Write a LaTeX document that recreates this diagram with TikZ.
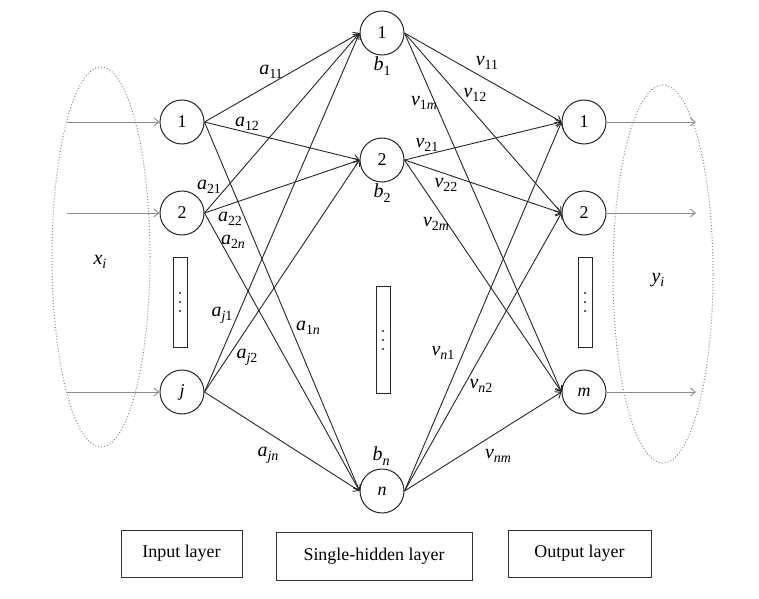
\documentclass[tikz,border=0pt]{standalone}
\usepackage{fontspec}
\setmainfont{Liberation Serif}
\usetikzlibrary{arrows.meta,shapes.geometric}
\newcommand\wt[2]{\textit{#1}\raisebox{-0.22em}{\fontsize{14}{16}\selectfont #2}}
\begin{document}
\begin{tikzpicture}[x=1bp,y=-1bp,
  neuron/.style={circle,draw=black!85,line width=1bp,minimum size=44bp,inner sep=0pt,font=\fontsize{18}{20}\selectfont},
  conn/.style={draw=black!85,line width=0.9bp,-{Straight Barb[length=5bp,width=8bp]}},
  io/.style={draw=black!45,line width=0.9bp,-{Straight Barb[length=5bp,width=8bp]}},
  lbl/.style={font=\fontsize{20}{22}\selectfont,inner sep=0pt},
  dotbox/.style={draw=black!85,line width=1bp,minimum width=14bp,inner sep=0pt},
  layerbox/.style={draw=black!80,line width=1bp,inner sep=0pt,font=\fontsize{18}{20}\selectfont},
  zone/.style={ellipse,draw=black!45,dotted,line width=1bp,inner sep=0pt}
]
\useasboundingbox (0,0) rectangle (759,599);
% dotted ellipses
\node[zone,minimum width=98bp,minimum height=380bp] (inz) at (101,257) {};
\node[zone,minimum width=100bp,minimum height=378bp] (outz) at (663,274) {};
\node[lbl] (xi) at (100,262) {\wt{x}{\textit{i}}};
\node[lbl] (yi) at (658,280) {\wt{y}{\textit{i}}};
% neurons
\node[neuron] (i1) at (182,122) {1};
\node[neuron] (i2) at (182,213) {2};
\node[neuron] (ij) at (182,392) {\textit{j}};
\node[neuron] (h1) at (382,33) {1};
\node[neuron] (h2) at (382,160) {2};
\node[neuron] (hn) at (382,491) {\textit{n}};
\node[neuron] (o1) at (584,122) {1};
\node[neuron] (o2) at (584,213) {2};
\node[neuron] (om) at (584,392) {\textit{m}};
% inputs / outputs
\coordinate (x1) at (67,122);
\coordinate (x2) at (67,213);
\coordinate (xj) at (67,392);
\coordinate (y1) at (696,122);
\coordinate (y2) at (696,213);
\coordinate (ym) at (696,392);
\draw[io] (x1) -- (i1);
\draw[io] (x2) -- (i2);
\draw[io] (xj) -- (ij);
\draw[io] (o1) -- (y1);
\draw[io] (o2) -- (y2);
\draw[io] (om) -- (ym);
% input -> hidden
\foreach \a in {i1,i2,ij}
  \foreach \b in {h1,h2,hn}
    \draw[conn] (\a.east) -- (\b.west);
% hidden -> output
\foreach \a in {h1,h2,hn}
  \foreach \b in {o1,o2,om}
    \draw[conn] (\a.east) -- (\b.west);
% weight labels
\node[lbl] (a11) at (271,72) {\wt{a}{11}};
\node[lbl] (a12) at (247,124) {\wt{a}{12}};
\node[lbl] (a21) at (209,187) {\wt{a}{21}};
\node[lbl] (a22) at (230,219) {\wt{a}{22}};
\node[lbl] (a2n) at (233,242) {\wt{a}{2\textit{n}}};
\node[lbl] (aj1) at (222,315) {\wt{a}{\textit{j}1}};
\node[lbl] (aj2) at (247,357) {\wt{a}{\textit{j}2}};
\node[lbl] (a1n) at (308,328) {\wt{a}{1\textit{n}}};
\node[lbl] (ajn) at (268,455) {\wt{a}{\textit{jn}}};
\node[lbl] (b1) at (382,66) {\wt{b}{1}};
\node[lbl] (b2) at (382,193) {\wt{b}{2}};
\node[lbl] (bn) at (381,456) {\wt{b}{\textit{n}}};
\node[lbl] (v11) at (487,63) {\wt{v}{11}};
\node[lbl] (v12) at (475,95) {\wt{v}{12}};
\node[lbl] (v1m) at (424,103) {\wt{v}{1\textit{m}}};
\node[lbl] (v21) at (427,145) {\wt{v}{21}};
\node[lbl] (v22) at (446,185) {\wt{v}{22}};
\node[lbl] (v2m) at (436,224) {\wt{v}{2\textit{m}}};
\node[lbl] (vn1) at (443,353) {\wt{v}{\textit{n}1}};
\node[lbl] (vn2) at (481,386) {\wt{v}{\textit{n}2}};
\node[lbl] (vnm) at (498,456) {\wt{v}{\textit{nm}}};
% dots boxes
\node[dotbox,minimum height=90bp] (dI) at (180,302) {};
\node[dotbox,minimum height=107bp] (dH) at (383,340) {};
\node[dotbox,minimum height=90bp] (dO) at (585,302) {};
\foreach \d in {-9,0,9} {
  \fill[black!85] (180,302+\d) circle (1.1bp);
  \fill[black!85] (383,340+\d) circle (1.1bp);
  \fill[black!85] (585,302+\d) circle (1.1bp);
}
% layer boxes
\node[layerbox,minimum width=121bp,minimum height=47bp] (Lin) at (181.5,553.5) {Input layer};
\node[layerbox,minimum width=196bp,minimum height=48bp] (Lhid) at (374,556) {Single-hidden layer};
\node[layerbox,minimum width=143bp,minimum height=47bp] (Lout) at (579.5,553.5) {Output layer};
\end{tikzpicture}
\end{document}
